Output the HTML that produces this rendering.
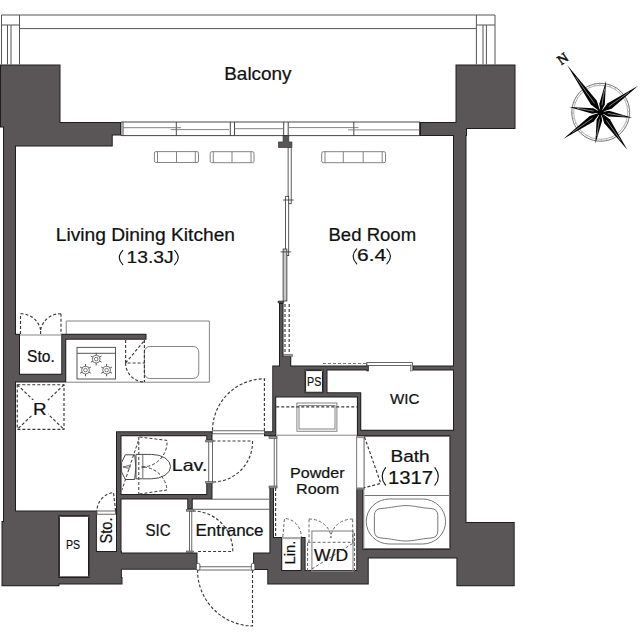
<!DOCTYPE html>
<html><head><meta charset="utf-8">
<style>
html,body{margin:0;padding:0;background:#fff;width:640px;height:640px;overflow:hidden}
svg{display:block}
.d{fill:none;stroke:#3a3a3a;stroke-width:1.15;stroke-dasharray:3 2}
text{font-family:"Liberation Sans",sans-serif;fill:#111;stroke:#111;stroke-width:0.22px}
</style></head><body>
<svg width="640" height="640" viewBox="0 0 640 640">
<rect width="640" height="640" fill="#fff"/>
<defs><filter id="wf" x="0" y="0" width="640" height="640" filterUnits="userSpaceOnUse" color-interpolation-filters="sRGB">
<feMorphology in="SourceAlpha" operator="erode" radius="1" result="er"/>
<feFlood flood-color="#1e1e1e" result="dk"/>
<feComposite in="dk" in2="SourceAlpha" operator="in" result="outline"/>
<feComposite in="SourceGraphic" in2="er" operator="in" result="inner"/>
<feMerge><feMergeNode in="outline"/><feMergeNode in="inner"/></feMerge>
</filter></defs>
<path d="M0,64.5H60.5V127.5H0ZM3,122H121V135.6H3ZM3,122H112.75V146.5H3ZM3,127.5H16V521H3ZM1.5,521H59.4V586.25H1.5ZM3,510.6H59.4V522H3ZM3,510.6H96.9V516.25H3ZM88.5,510.6H96.9V584.4H88.5ZM59.4,576.9H122.5V584.4H59.4ZM96.9,551H121.9V584.4H96.9ZM116,431.25H121.5V569.75H116ZM116,431.25H212.5V436.25H116ZM116,494H211.5V499.4H116ZM206.25,482.5H212.5V499.4H206.25ZM206.25,431.25H212.5V440.6H206.25ZM187.25,494H192.75V509.4H187.25ZM116,552.5H197.5V569.75H116ZM16,333.75H20V382.5H16ZM16,373.75H66.25V382.5H16ZM61.25,333.75H66.25V382.6H61.25ZM61.25,333.75H146.5V339.75H61.25ZM279,303H283.5V365.6H279ZM279,356H291.25V365.6H279ZM272.25,365.6H305.6V396.5H272.25ZM305.6,365.6H327.5V370.6H305.6ZM322.5,365.6H327.5V397.5H322.5ZM272.25,392.25H361.25V397.5H272.25ZM272.25,365.6H366.9V370.6H272.25ZM412.5,365.6H453V370.6H412.5ZM366.4,362.8H368.8V371.2H366.4ZM356.9,392.25H361.25V436.2H356.9ZM356.9,429.75H453V436.2H356.9ZM272.25,365.6H276.25V436.25H272.25ZM264,431.25H276.25V436.25H264ZM269.4,487H274V553H269.4ZM269.4,537H282.25V584.4H269.4ZM253.1,552.5H282V570H253.1ZM267.25,570H368.75V584.4H267.25ZM300.6,537H305.6V584.4H300.6ZM282,570.25H306.9V584.4H282ZM305.6,571.9H368.75V584.4H305.6ZM356.25,489H363.4V584.4H356.25ZM356.25,548.75H456.4V558.6H356.25ZM356.25,548.75H368.75V584.4H356.25ZM455.5,64.5H515.5V129H455.5ZM420,122H467V136H420ZM453,122H466.5V558.6H453ZM449.5,436.2H466.5V558.6H449.5ZM456.4,521.9H514.7V586.25H456.4Z" fill="#5a5657" filter="url(#wf)"/>
<!-- balcony rail -->
<g fill="none" stroke="#555" stroke-width="1">
<path d="M1.5,64.5 V15 H495 V64.5"/>
<path d="M19.5,28.6 H476.4 M19.5,15 V64.5 M476.4,15 V64.5"/>
<path d="M1.5,25 H19.5 M476.4,25 H495"/>
<path d="M7.5,25 V64.5 M11,25 V64.5 M483,25 V64.5 M486.4,25 V64.5"/>
</g>
<!-- windows -->
<g fill="none" stroke="#333" stroke-width="0.9">
<path d="M121,122 H420 M121,135.6 H420"/>
<path d="M121,122 V135.6 M123,122 V135.6 M176.3,122 V135.6 M230.3,122 V135.6 M234.5,122 V135.6 M283.7,122 V135.6 M288.2,122 V135.6 M353.8,122 V135.6 M419.5,122 V135.6"/>
</g>
<g fill="none" stroke="#777" stroke-width="0.9">
<path d="M123,127.7 H181 M170.7,129.6 H229 M234.5,128.7 H283.7 M288.2,127.6 H358.5 M348,129.9 H419.5"/>
</g>
<!-- post + partition -->
<path d="M283.1,135.6 H288.75 V141.9 H291.9 V147.5 H278.5 V141.9 H283.1 Z" fill="#5a5657" stroke="#222" stroke-width="0.6"/>
<g stroke="#333" stroke-width="0.8">
<rect x="288.1" y="147.5" width="3.1" height="56.2" fill="#fff"/>
<rect x="285.6" y="196.3" width="3.1" height="59.3" fill="#fff"/>
<rect x="283.1" y="249" width="3.8" height="52" fill="#c8c8c8"/>
<path d="M283.1,200 H293.7 M280.6,251.9 H291.2" fill="none"/>
</g>
<path d="M278,301 H283.75 V303 H278 Z" fill="#5a5657" stroke="#222" stroke-width="0.5"/>
<g fill="none" class="d">
<path d="M285,304 V353 M289.2,304 V353"/>
</g>
<path d="M283.5,354.4 H292.5 V356.5 H283.5 Z" fill="#9a9a9a" stroke="#444" stroke-width="0.5"/>
<!-- sofas -->
<g fill="#fff" stroke="#777" stroke-width="0.9">
<rect x="154.4" y="151.6" width="44.1" height="10.9" rx="1.5"/>
<path d="M157.5,151.6 V162.5 M195.3,151.6 V162.5 M176.5,151.6 V162.5" fill="none"/>
<rect x="210.2" y="151.7" width="43.8" height="11" rx="1.5"/>
<path d="M213.3,151.7 V162.7 M251,151.7 V162.7 M232,151.7 V162.7" fill="none"/>
<rect x="321.7" y="151.7" width="63.8" height="11" rx="1.5"/>
<path d="M325,151.7 V162.7 M382.2,151.7 V162.7 M343.3,151.7 V162.7 M363.2,151.7 V162.7" fill="none"/>
</g>
<!-- kitchen -->
<g fill="none" stroke="#777" stroke-width="0.9">
<path d="M66.25,334 V321 H209.4 V382.2 H66.25"/>
<rect x="144.4" y="346.5" width="54.35" height="32" rx="5.5"/>
</g>
<g fill="none" stroke="#555" stroke-width="1">
<rect x="77" y="347.4" width="38.5" height="31.6"/>
<path d="M77,353.3 H115.5"/>
</g>
<g fill="none" stroke="#444" stroke-width="0.7">
<circle cx="96.2" cy="359.1" r="3.9"/><circle cx="96.2" cy="359.1" r="1.8"/>
<circle cx="85.5" cy="370.1" r="3.9"/><circle cx="85.5" cy="370.1" r="1.8"/>
<circle cx="106.6" cy="370.1" r="3.9"/><circle cx="106.6" cy="370.1" r="1.8"/>
</g>
<!-- burner-ticks -->
<path d="M96.20,363.00 L96.20,365.30 M99.58,361.05 L101.57,362.20 M99.58,357.15 L101.57,356.00 M96.20,355.20 L96.20,352.90 M92.82,361.05 L90.83,362.20 M92.82,357.15 L90.83,356.00 M85.50,374.00 L85.50,376.30 M88.88,372.05 L90.87,373.20 M88.88,368.15 L90.87,367.00 M85.50,366.20 L85.50,363.90 M82.12,372.05 L80.13,373.20 M82.12,368.15 L80.13,367.00 M106.60,374.00 L106.60,376.30 M109.98,372.05 L111.97,373.20 M109.98,368.15 L111.97,367.00 M106.60,366.20 L106.60,363.90 M103.22,372.05 L101.23,373.20 M103.22,368.15 L101.23,367.00" fill="none" stroke="#444" stroke-width="0.9"/>
<g fill="none" class="d">
<path d="M125.6,340 V363 H144.4 M125.6,363 L144.4,340.5 M144.4,340 V382 M125.6,363 A19,19 0 0 0 144.4,382"/>
<!-- sto doors -->
<path d="M20.5,334 V313.75 M61,313.75 V334 M40.6,334 V330 M20.5,313.75 A20,20 0 0 1 40.6,330 M61,313.75 A20,20 0 0 0 40.6,330"/>
<!-- R box -->
<rect x="17.25" y="384.75" width="46.75" height="44.65"/>
<path d="M17.25,384.75 L64,429.4 M64,384.75 L17.25,429.4"/>
</g>
<path d="M20,335 H61" stroke="#888" stroke-width="1.2"/>
<rect x="32" y="400" width="16" height="18" fill="#fff"/>
<!-- texts -->
<!-- LDK door -->
<g fill="none" class="d">
<path d="M264.4,431 V378.8 A52,52 0 0 0 212.5,431"/>
<!-- lav door -->
<path d="M212.5,441 H252.5 A40,40 0 0 1 212.5,482"/>
<!-- sic/entrance inner door -->
<path d="M192.75,511 A40,40 0 0 1 232.8,551.5 H197.5"/>
<!-- entrance main door -->
<path d="M252.5,570 V626 A56,56 0 0 1 197.5,570"/>
<!-- sto bottom door -->
<path d="M115.6,511 L113.5,492.5 A19,19 0 0 0 96.9,511"/>
</g>
<!-- door frames -->
<g fill="#fff" stroke="#444" stroke-width="0.8">
<rect x="212.5" y="430.8" width="51.9" height="3"/>
<rect x="208.75" y="440.6" width="3.75" height="42"/>
<rect x="274.2" y="437.5" width="2.6" height="49.5"/>
<rect x="189.4" y="511" width="2.4" height="41"/>
<rect x="197.5" y="566.8" width="56" height="3.2"/>
<rect x="96.9" y="511" width="18.7" height="3.2"/>
</g>
<g fill="#9a9a9a" stroke="#444" stroke-width="0.6">
<rect x="205.7" y="440" width="7.3" height="2"/>
<rect x="205.7" y="481.5" width="7.3" height="2"/>
<rect x="269" y="436.3" width="8" height="2.2"/>
<rect x="269" y="486" width="8" height="2"/>
<rect x="186.5" y="509.4" width="7" height="1.8"/>
<rect x="186.5" y="551" width="7" height="1.5"/>
</g>
<!-- shoe shelf lines -->
<g fill="none" stroke="#666" stroke-width="1">
<path d="M211.5,499.2 H269.4 M192.75,509.3 H269.4"/>
</g>
<path d="M275.6,488 V537" fill="none" class="d"/>
<!-- PS boxes -->
<g fill="#fff" stroke="#1e1e1e" stroke-width="1">
<rect x="59.4" y="516.25" width="29.1" height="60.65" rx="1"/>
<rect x="305.6" y="370.6" width="16.9" height="21.65" rx="1"/>
</g>
<!-- mirror / vanity -->
<g fill="none" stroke="#777" stroke-width="0.9">
<rect x="296.9" y="403" width="40" height="28.25"/>
<rect x="299" y="405.6" width="36" height="23.4"/>
<path d="M276.25,435.2 H356.9"/>
</g>
<path d="M276.25,406.9 H356.9" fill="none" class="d"/>
<!-- bedroom closet dashed -->
<path d="M323,363.5 H366.9" fill="none" class="d" style="stroke:#777"/>
<rect x="366.9" y="362.6" width="45.6" height="3" fill="#fff" stroke="#444" stroke-width="0.8"/>
<rect x="410.6" y="365" width="1.9" height="6" fill="#ccc" stroke="#444" stroke-width="0.5"/>
<!-- bath -->
<g fill="none" stroke="#777" stroke-width="1">
<rect x="363.8" y="436.5" width="85.7" height="112"/>
<path d="M364.5,495.5 H449"/>
<rect x="366.25" y="499" width="79.35" height="45" rx="23" ry="22.5"/>
<path d="M381,508.5 C392,507.8 398,505.6 406,505.6 C414,505.6 420,507.8 431,508.5 Q437.8,509 437.8,515.5 V531 Q437.8,537.5 431,538 C420,538.8 414,541 406,541 C398,541 392,538.8 381,538 Q374.4,537.5 374.4,531 V515.5 Q374.4,509 381,508.5 Z"/>
</g>
<rect x="356.7" y="436.2" width="7.3" height="53.3" fill="#fff" stroke="#555" stroke-width="0.8"/>
<rect x="356.7" y="436.2" width="7.3" height="2" fill="#9a9a9a"/>
<rect x="356.7" y="487.5" width="7.3" height="2" fill="#777"/>
<path d="M364.5,437 L380.8,483.4 L364,487.7" fill="none" class="d"/>
<!-- Lin -->
<rect x="282.25" y="537" width="18.35" height="2.2" fill="#aaa"/>
<path d="M282.8,537 L284.5,518.5 A17,18.5 0 0 1 301.3,537" fill="none" class="d" style="stroke:#666;stroke-width:1"/>
<!-- W/D -->
<rect x="311.9" y="531" width="41.1" height="40.25" fill="none" stroke="#888" stroke-width="1.1"/>
<g fill="none" class="d" style="stroke:#666;stroke-width:1">
<path d="M307.6,571 V542.3 M309,542.3 V519 M352.7,542.3 V519 M354.5,571 V531 M307.6,542.3 H354.5 M311.9,569 L354.5,542.3"/>
<path d="M309,519 A21.9,19 0 0 1 330.9,538 M352.7,519 A21.8,19 0 0 0 330.9,538"/>
</g>
<!-- toilet -->
<g fill="#fff" stroke="#4a4a4a" stroke-width="1">
<path d="M125.3,454.8 H134.7 Q137,467 134.7,479.5 H125.3 L121.6,472 V462.5 Z"/>
<path d="M136,454.4 H151.5 A19.1,12.2 0 0 1 151.5,478.8 H136 Z"/>
</g>
<path d="M142.7,455 V478.5" stroke="#999" stroke-width="1.5"/>
<path d="M141.5,467 H144" stroke="#111" stroke-width="1"/>
<path d="M123,467 L130,465 M123,467 L130,469 M123,467 H131" stroke="#555" stroke-width="0.7" fill="none"/>
<g class="d" style="stroke-width:1">
<path d="M138.8,437 V494 M139.5,437 L167,440.4 A25,25 0 0 1 143.4,467 M139.5,494 L167,490 A25,25 0 0 0 143.4,467 M138.3,440.8 L121.9,490.2"/>
</g>
<!-- texts 2 -->
<!-- jamb-caps -->
<g fill="#fff" stroke="#333" stroke-width="0.8">
<rect x="196.3" y="563.3" width="3.6" height="6.9" rx="1.5"/>
<rect x="251.3" y="563.3" width="3.6" height="6.9" rx="1.5"/>
</g>
<text x="224.25" y="80.00" font-size="17.46" textLength="67.30" lengthAdjust="spacingAndGlyphs">Balcony</text>
<text x="55.75" y="240.75" font-size="17.81" textLength="179.29" lengthAdjust="spacingAndGlyphs">Living Dining Kitchen</text>
<text x="126.50" y="262.50" font-size="15.71" textLength="47.19" lengthAdjust="spacingAndGlyphs">13.3J</text>
<text x="328.50" y="240.75" font-size="17.46" textLength="87.61" lengthAdjust="spacingAndGlyphs">Bed Room</text>
<text x="357.00" y="261.00" font-size="16.34" textLength="29.14" lengthAdjust="spacingAndGlyphs">6.4</text>
<text x="27.00" y="361.60" font-size="15.78" textLength="27.73" lengthAdjust="spacingAndGlyphs">Sto.</text>
<text x="33.00" y="415.25" font-size="16.97" textLength="13.60" lengthAdjust="spacingAndGlyphs">R</text>
<text x="171.75" y="471.25" font-size="17.11" textLength="35.60" lengthAdjust="spacingAndGlyphs">Lav.</text>
<text x="145.50" y="535.70" font-size="16.20" textLength="25.16" lengthAdjust="spacingAndGlyphs">SIC</text>
<text x="195.50" y="535.70" font-size="16.20" textLength="68.07" lengthAdjust="spacingAndGlyphs">Entrance</text>
<text x="390.00" y="403.90" font-size="15.50" textLength="29.53" lengthAdjust="spacingAndGlyphs">WIC</text>
<text x="390.50" y="462.00" font-size="16.90" textLength="39.19" lengthAdjust="spacingAndGlyphs">Bath</text>
<text x="388.00" y="483.80" font-size="18.30" textLength="45.11" lengthAdjust="spacingAndGlyphs">1317</text>
<text x="290.00" y="477.50" font-size="15.22" textLength="54.53" lengthAdjust="spacingAndGlyphs">Powder</text>
<text x="296.00" y="493.90" font-size="15.22" textLength="43.13" lengthAdjust="spacingAndGlyphs">Room</text>
<text x="314.00" y="561.10" font-size="15.78" textLength="34.04" lengthAdjust="spacingAndGlyphs">W/D</text>
<text x="66.00" y="549.20" font-size="13.41" textLength="14.11" lengthAdjust="spacingAndGlyphs">PS</text>
<text x="307.00" y="386.05" font-size="13.48" textLength="14.28" lengthAdjust="spacingAndGlyphs">PS</text>
<text transform="translate(111.90,543.50) rotate(-90)" font-size="16.20" textLength="25.94" lengthAdjust="spacingAndGlyphs">Sto.</text>
<text transform="translate(295.30,564.50) rotate(-90)" font-size="14.53" textLength="23.78" lengthAdjust="spacingAndGlyphs">Lin.</text>
<g fill="none" stroke="#111" stroke-width="1.1" stroke-linecap="round">
<path d="M122.8,250.3 Q115.8,257.5 122.8,264.7"/>
<path d="M174.7,250.3 Q181.7,257.5 174.7,264.7"/>
<path d="M356.7,248.9 Q349.7,256.4 356.7,263.9"/>
<path d="M386.9,248.9 Q393.9,256.4 386.9,263.9"/>
<path d="M385.6,467.7 Q378.6,476.5 385.6,485.2"/>
<path d="M434.9,467.7 Q441.9,476.5 434.9,485.2"/>
</g>
<!-- compass -->
<g transform="translate(600.7,112.3) rotate(-35.4)">
<circle r="29" fill="none" stroke="#666" stroke-width="0.8"/>
<circle r="27" fill="none" stroke="#888" stroke-width="0.6"/>
<path d="M27.00,0.00 L29.00,0.00 M26.48,5.27 L28.44,5.66 M24.94,10.33 L26.79,11.10 M22.45,15.00 L24.11,16.11 M19.09,19.09 L20.51,20.51 M15.00,22.45 L16.11,24.11 M10.33,24.94 L11.10,26.79 M5.27,26.48 L5.66,28.44 M0.00,27.00 L0.00,29.00 M-5.27,26.48 L-5.66,28.44 M-10.33,24.94 L-11.10,26.79 M-15.00,22.45 L-16.11,24.11 M-19.09,19.09 L-20.51,20.51 M-22.45,15.00 L-24.11,16.11 M-24.94,10.33 L-26.79,11.10 M-26.48,5.27 L-28.44,5.66 M-27.00,0.00 L-29.00,0.00 M-26.48,-5.27 L-28.44,-5.66 M-24.94,-10.33 L-26.79,-11.10 M-22.45,-15.00 L-24.11,-16.11 M-19.09,-19.09 L-20.51,-20.51 M-15.00,-22.45 L-16.11,-24.11 M-10.33,-24.94 L-11.10,-26.79 M-5.27,-26.48 L-5.66,-28.44 M-0.00,-27.00 L-0.00,-29.00 M5.27,-26.48 L5.66,-28.44 M10.33,-24.94 L11.10,-26.79 M15.00,-22.45 L16.11,-24.11 M19.09,-19.09 L20.51,-20.51 M22.45,-15.00 L24.11,-16.11 M24.94,-10.33 L26.79,-11.10 M26.48,-5.27 L28.44,-5.66" stroke="#888" stroke-width="0.5"/>
<path d="M0,0 L3.60,-12.00 L0.00,-58.00 L-3.60,-12.00 Z" fill="#000"/>
<path d="M0.00,-10.80 L0.00,-43.50" stroke="#fff" stroke-width="0.45"/>
<path d="M0,0 L-3.40,11.00 L0.00,46.00 L3.40,11.00 Z" fill="#000"/>
<path d="M0.00,9.90 L0.00,34.50" stroke="#fff" stroke-width="0.45"/>
<path d="M0,0 L11.00,3.40 L46.00,0.00 L11.00,-3.40 Z" fill="#000"/>
<path d="M9.90,0.00 L34.50,0.00" stroke="#fff" stroke-width="0.45"/>
<path d="M0,0 L-11.00,-3.40 L-46.00,0.00 L-11.00,3.40 Z" fill="#000"/>
<path d="M-9.90,0.00 L-34.50,0.00" stroke="#fff" stroke-width="0.45"/>
<path d="M0,0 L7.64,-3.68 L22.63,-22.63 L3.68,-7.64 Z" fill="#000"/>
<path d="M5.09,-5.09 L16.97,-16.97" stroke="#fff" stroke-width="0.45"/>
<path d="M0,0 L3.68,7.64 L22.63,22.63 L7.64,3.68 Z" fill="#000"/>
<path d="M5.09,5.09 L16.97,16.97" stroke="#fff" stroke-width="0.45"/>
<path d="M0,0 L-7.64,3.68 L-22.63,22.63 L-3.68,7.64 Z" fill="#000"/>
<path d="M-5.09,5.09 L-16.97,16.97" stroke="#fff" stroke-width="0.45"/>
<path d="M0,0 L-3.68,-7.64 L-22.63,-22.63 L-7.64,-3.68 Z" fill="#000"/>
<path d="M-5.09,-5.09 L-16.97,-16.97" stroke="#fff" stroke-width="0.45"/>
<circle r="3" fill="#000"/>
<text x="0" y="-61" font-size="14" text-anchor="middle" style="font-family:'Liberation Serif',serif;font-weight:normal;fill:#111;stroke-width:0.5px">N</text>
</g>

</svg>
</body></html>
